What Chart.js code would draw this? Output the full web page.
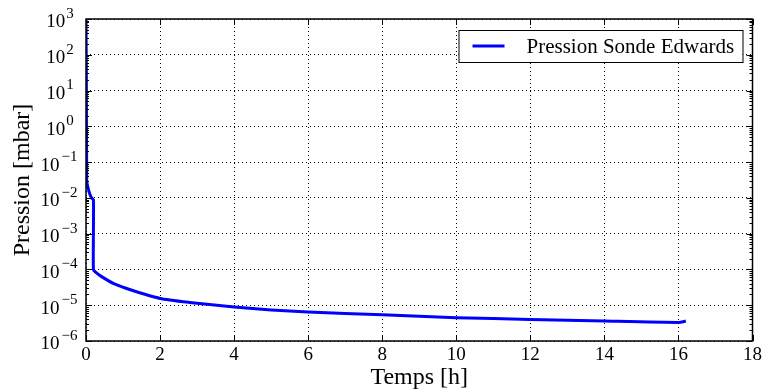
<!DOCTYPE html>
<html>
<head>
<meta charset="utf-8">
<script src="https://cdn.jsdelivr.net/npm/chart.js@4"></script>
<style>
html,body{margin:0;padding:0;background:#fff;}
#wrap{width:765px;height:390px;}
</style>
</head>
<body>
<div id="wrap"><canvas id="pression"></canvas></div>
<script>
// temps en heures, pression en mbar
const temps = [0, 0.01, 0.02, 0.05, 0.1, 0.15, 0.2, 0.2, 0.2, 0.25, 0.4, 0.75, 1.2, 2, 2.8, 4, 5, 6, 8, 10, 12, 14, 16, 16.2];
const pression = [1000, 20, 0.03, 0.02, 0.013, 0.01, 0.0088, 0.001, 0.0001, 0.000085, 0.000065, 0.00004, 0.000027, 0.0000155, 0.000012, 0.0000089, 0.0000074, 0.0000065, 0.0000054, 0.0000045, 0.000004, 0.0000036, 0.0000033, 0.0000036];
const xTicks = [0, 2, 4, 6, 8, 10, 12, 14, 16, 18];
const yDecades = [-6, -5, -4, -3, -2, -1, 0, 1, 2, 3];
const serieLabel = 'Pression Sonde Edwards';
const xTitle = 'Temps [h]';
const yTitle = 'Pression [mbar]';

const serif = "'Liberation Serif', 'Times New Roman', serif";

const habillage = {
  id: 'habillage',
  afterDraw(chart) {
    const ctx = chart.ctx;
    const a = chart.chartArea;
    const xs = chart.scales.x, ys = chart.scales.y;
    ctx.save();
    ctx.strokeStyle = '#000';
    ctx.lineWidth = 1;
    // ticks vers l'interieur
    ctx.beginPath();
    xTicks.forEach(t => {
      const px = Math.round(xs.getPixelForValue(t)) + 0.5;
      ctx.moveTo(px, a.bottom); ctx.lineTo(px, a.bottom - 6);
      ctx.moveTo(px, a.top); ctx.lineTo(px, a.top + 6);
    });
    yDecades.forEach(d => {
      const py = Math.round(ys.getPixelForValue(Math.pow(10, d))) + 0.5;
      ctx.moveTo(a.left, py); ctx.lineTo(a.left + 6, py);
      ctx.moveTo(a.right, py); ctx.lineTo(a.right - 6, py);
      if (d < 3) {
        for (let k = 2; k < 10; k++) {
          const pm = Math.round(ys.getPixelForValue(k * Math.pow(10, d))) + 0.5;
          ctx.moveTo(a.left, pm); ctx.lineTo(a.left + 3, pm);
          ctx.moveTo(a.right, pm); ctx.lineTo(a.right - 3, pm);
        }
      }
    });
    ctx.stroke();
    // cadre
    ctx.lineWidth = 1.5;
    ctx.strokeRect(a.left, a.top, a.right - a.left, a.bottom - a.top);

    // etiquettes y en puissances de 10
    ctx.fillStyle = '#000';
    ctx.textBaseline = 'middle';
    ctx.textAlign = 'left';
    yDecades.forEach(d => {
      const py = ys.getPixelForValue(Math.pow(10, d));
      const exp = d < 0 ? '\u2212' + (-d) : String(d);
      ctx.font = '15px ' + serif;
      const ew = ctx.measureText(exp).width + (d < 0 ? 3 : 0);
      ctx.font = '19px ' + serif;
      const bw = ctx.measureText('10').width + 1;
      const x0 = 60 - (bw + ew) / 2;
      ctx.fillText('10', x0, py + 3.5);
      ctx.font = '15px ' + serif;
      ctx.fillText(exp, x0 + bw + (d < 0 ? 1 : 0), py - 5);
    });

    // legende
    const lx = a.right - 294, ly = a.top + 11, lw = 284, lh = 32;
    ctx.fillStyle = '#fff';
    ctx.fillRect(lx, ly, lw, lh);
    ctx.lineWidth = 1;
    ctx.strokeStyle = '#000';
    ctx.strokeRect(lx + 0.5, ly + 0.5, lw, lh);
    const ds = chart.data.datasets[0];
    ctx.strokeStyle = ds.borderColor;
    ctx.lineWidth = 3;
    ctx.beginPath();
    ctx.moveTo(lx + 14, ly + lh / 2);
    ctx.lineTo(lx + 46, ly + lh / 2);
    ctx.stroke();
    ctx.fillStyle = '#000';
    ctx.font = '21px ' + serif;
    ctx.fillText(ds.label, lx + 68, ly + lh / 2 + 1);
    ctx.restore();
  }
};

new Chart(document.getElementById('pression').getContext('2d'), {
  type: 'line',
  data: {
    datasets: [{
      label: serieLabel,
      data: temps.map((t, i) => ({x: t, y: pression[i]})),
      borderColor: '#0000ff',
      borderWidth: 3,
      pointRadius: 0,
      tension: 0.2,
      fill: false
    }]
  },
  options: {
    responsive: true,
    maintainAspectRatio: false,
    animation: false,
    layout: {padding: {left: 0, right: 12, top: 19, bottom: 0}},
    plugins: {legend: {display: false}, tooltip: {enabled: false}},
    scales: {
      x: {
        type: 'linear',
        min: 0,
        max: 18,
        afterBuildTicks: scale => { scale.ticks = xTicks.map(v => ({value: v})); },
        afterFit: scale => { scale.height = 49; },
        grid: {color: '#000', lineWidth: 1, drawTicks: false},
        border: {display: false, dash: [1, 3]},
        ticks: {color: '#000', font: {family: serif, size: 19}, padding: 3, maxRotation: 0},
        title: {display: true, text: xTitle, color: '#000', font: {family: serif, size: 24, lineHeight: 1}, padding: 0}
      },
      y: {
        type: 'logarithmic',
        min: 1e-6,
        max: 1e3,
        afterBuildTicks: scale => { scale.ticks = yDecades.map(d => ({value: Math.pow(10, d)})); },
        afterFit: scale => { scale.width = 86; },
        grid: {color: '#000', lineWidth: 1, drawTicks: false},
        border: {display: false, dash: [1, 3]},
        ticks: {display: false},
        title: {display: true, text: yTitle, color: '#000', font: {family: serif, size: 24, lineHeight: 1}, padding: {top: 11}}
      }
    }
  },
  plugins: [habillage]
});
</script>
</body>
</html>
